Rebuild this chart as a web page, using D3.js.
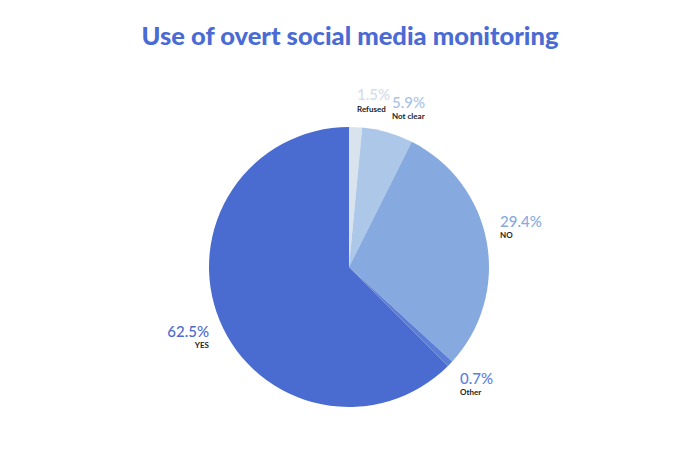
<!DOCTYPE html>
<html><head><meta charset="utf-8">
<script src="https://cdn.jsdelivr.net/npm/d3@7"></script>
<style>body{margin:0;background:#fff;} svg{display:block;}</style>
</head><body>
<svg id="c" width="700" height="466"></svg>
<script>
const categories = ["Refused", "Not clear", "NO", "Other", "YES"];
const values = [1.5, 5.9, 29.4, 0.7, 62.5];
const labels = ["1.5%", "5.9%", "29.4%", "0.7%", "62.5%"];
const colors = ["#d9e3ee", "#adc7e8", "#86aae0", "#5b7fd9", "#4a6bd0"];
const labelColors = ["#d2dcea", "#a9c2e6", "#86aae0", "#5b80dc", "#4a6bd0"];

const svg = d3.select("#c");
const font = "'Lato', 'Open Sans', sans-serif";
svg.append("text").attr("x", 350).attr("y", 45).attr("text-anchor", "middle")
  .attr("font-family", font).attr("font-weight", 900).attr("font-size", 25.5)
  .attr("fill", "#4a6bd4").text("Use of overt social media monitoring");

const cx = 349, cy = 267, r = 140;
const pie = d3.pie().sort(null).value(d => d);
const arcs = pie(values);
const arc = d3.arc().innerRadius(0).outerRadius(r);
const g = svg.append("g").attr("transform", `translate(${cx},${cy})`);
g.selectAll("path").data(arcs).enter().append("path")
  .attr("d", arc).attr("fill", (d, i) => colors[i]);

// label positions (offsets relative to centre), anchors
const lp = [
  {x: 8, y: -167, a: "start", gap: 12},
  {x: 43, y: -159, a: "start", gap: 11},
  {x: 151, y: -40, a: "start", gap: 11},
  {x: 111, y: 117, a: "start", gap: 11},
  {x: -140, y: 70, a: "end", gap: 11}
];
const lg = svg.append("g").attr("transform", `translate(${cx},${cy})`);
arcs.forEach((d, i) => {
  const p = lp[i];
  lg.append("text").attr("x", p.x).attr("y", p.y).attr("text-anchor", p.a)
    .attr("font-family", font).attr("font-weight", 500).attr("font-size", 15)
    .attr("fill", labelColors[i]).text(labels[i]);
  lg.append("text").attr("x", p.x).attr("y", p.y + p.gap).attr("text-anchor", p.a)
    .attr("font-family", font).attr("font-weight", 700).attr("font-size", 8)
    .attr("fill", "#222").text(categories[i]);
});
</script>
</body></html>
